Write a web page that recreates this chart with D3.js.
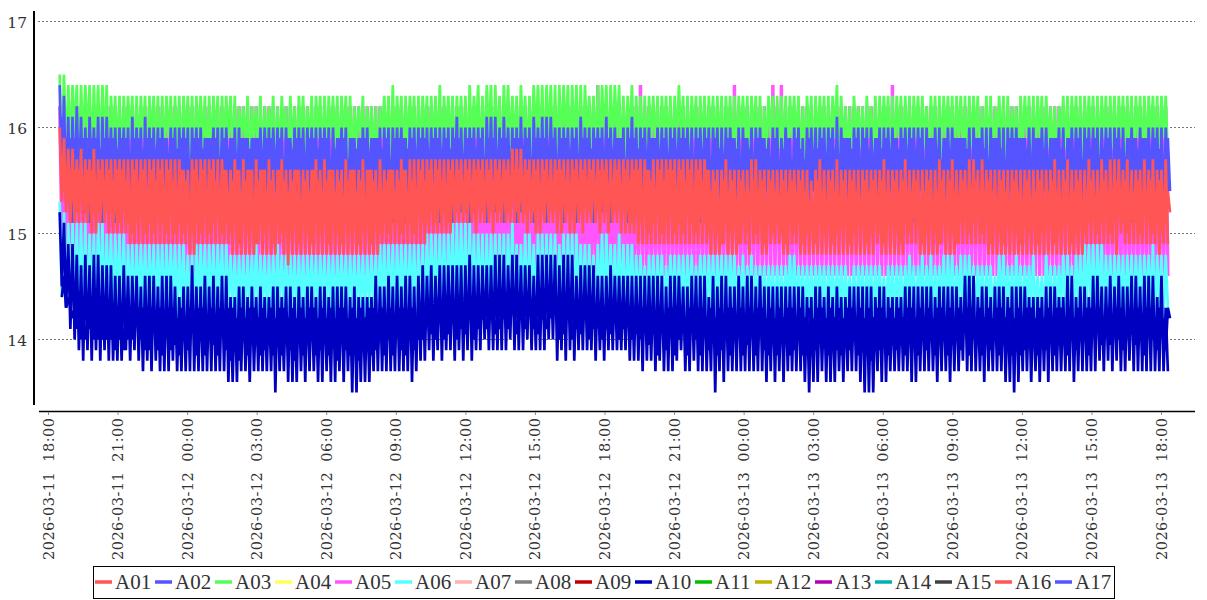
<!DOCTYPE html>
<html>
<head>
<meta charset="utf-8">
<script src="https://cdn.jsdelivr.net/npm/d3@7"></script>
<style>
  html, body { margin: 0; background: #fff; }
  text { fill: #333; }
</style>
</head>
<body>
<svg id="chart" width="1207" height="600"></svg>
<script>
const names = ['A01','A02','A03','A04','A05','A06','A07','A08','A09','A10','A11','A12','A13','A14','A15','A16','A17'];
const colors = ['#ff5555','#5555ff','#55ff55','#ffff55','#ff55ff','#55ffff','#ffb0b0','#808080','#c00000','#0000c0','#00c000','#c0b000','#b000b0','#00b0b0','#404040','#ff5555','#5555ff'];
const yTicks = [14, 15, 16, 17];
const xTicks = ['2026-03-11 18:00','2026-03-11 21:00','2026-03-12 00:00','2026-03-12 03:00','2026-03-12 06:00','2026-03-12 09:00','2026-03-12 12:00','2026-03-12 15:00','2026-03-12 18:00','2026-03-12 21:00','2026-03-13 00:00','2026-03-13 03:00','2026-03-13 06:00','2026-03-13 09:00','2026-03-13 12:00','2026-03-13 15:00','2026-03-13 18:00'];

// each series swings between a high and a low reading per sample
const a03Hi = [16.5,16.5,16.4,16.4,16.4,16.4,16.4,16.4,16.4,16.4,16.4,16.4,16.3,16.3,16.3,16.3,16.3,16.3,16.3,16.3,
16.3,16.3,16.3,16.3,16.3,16.3,16.3,16.3,16.3,16.3,16.3,16.3,16.3,16.3,16.3,16.3,16.3,16.3,16.3,16.3,
16.3,16.3,16.2,16.2,16.3,16.2,16.2,16.3,16.2,16.2,16.3,16.2,16.3,16.2,16.3,16.2,16.3,16.3,16.2,16.3,
16.3,16.3,16.3,16.3,16.3,16.3,16.3,16.3,16.3,16.2,16.2,16.3,16.2,16.2,16.2,16.2,16.3,16.3,16.4,16.3,
16.3,16.3,16.3,16.3,16.3,16.3,16.3,16.3,16.3,16.4,16.3,16.3,16.3,16.3,16.3,16.3,16.4,16.3,16.4,16.3,
16.4,16.4,16.4,16.3,16.4,16.4,16.3,16.3,16.4,16.3,16.3,16.4,16.4,16.4,16.4,16.4,16.4,16.4,16.4,16.4,
16.4,16.4,16.4,16.4,16.3,16.3,16.4,16.4,16.4,16.4,16.4,16.4,16.3,16.3,16.4,16.3,16.3,16.3,16.3,16.3,
16.3,16.3,16.3,16.3,16.3,16.4,16.3,16.3,16.3,16.3,16.3,16.3,16.3,16.3,16.3,16.3,16.3,16.3,16.3,16.3,
16.3,16.3,16.3,16.3,16.3,16.2,16.3,16.3,16.3,16.3,16.3,16.3,16.3,16.3,16.2,16.3,16.3,16.3,16.3,16.3,
16.3,16.3,16.4,16.3,16.2,16.2,16.3,16.2,16.2,16.3,16.2,16.3,16.3,16.3,16.3,16.3,16.3,16.3,16.3,16.3,
16.3,16.3,16.3,16.2,16.3,16.3,16.3,16.3,16.3,16.3,16.3,16.3,16.3,16.3,16.3,16.3,16.2,16.3,16.3,16.2,
16.3,16.3,16.3,16.2,16.2,16.3,16.3,16.3,16.3,16.3,16.3,16.3,16.2,16.2,16.2,16.3,16.3,16.3,16.3,16.3,
16.3,16.3,16.3,16.3,16.3,16.3,16.3,16.3,16.3,16.3,16.3,16.3,16.3,16.3,16.3,16.3,16.3,16.3,16.3,16.3];
const a03Lo = [15.6,15.7,15.8,15.9,15.6,15.8,15.9,15.6,15.8,15.7,15.8,15.6,15.9,15.7,15.6,15.8,15.9,15.6,15.7,15.9,
15.6,15.9,15.8,15.6,15.7,15.9,15.6,15.8,15.6,15.9,15.7,15.6,15.9,15.8,15.6,15.7,15.9,15.6,15.8,15.9,
15.7,15.6,15.9,15.8,15.6,15.9,15.7,15.6,15.8,15.9,15.6,15.7,15.9,15.6,15.8,15.6,15.9,15.7,15.8,15.6,
15.9,15.6,15.7,15.9,15.8,15.6,15.9,15.7,15.6,15.8,15.9,15.6,15.8,15.7,15.6,15.9,15.8,15.6,15.7,15.9,
15.6,15.8,15.9,15.6,15.7,15.9,15.6,15.8,15.7,15.6,15.9,15.8,15.6,15.9,15.7,15.6,15.8,15.9,15.6,15.7,
15.9,15.6,15.8,15.6,15.9,15.7,15.8,15.6,15.9,15.6,15.7,15.9,15.8,15.6,15.9,15.7,15.6,15.8,15.9,15.6,
15.8,15.7,15.6,15.9,15.8,15.6,15.7,15.9,15.6,15.8,15.9,15.6,15.7,15.9,15.6,15.8,15.7,15.6,15.9,15.8,
15.6,15.9,15.7,15.6,15.8,15.9,15.6,15.7,15.9,15.6,15.8,15.6,15.9,15.7,15.8,15.6,15.9,15.6,15.7,15.9,
15.8,15.6,15.9,15.7,15.6,15.8,15.9,15.6,15.8,15.7,15.6,15.9,15.8,15.6,15.7,15.9,15.6,15.8,15.9,15.6,
15.7,15.9,15.6,15.8,15.7,15.6,15.9,15.8,15.6,15.9,15.7,15.6,15.8,15.9,15.6,15.7,15.9,15.6,15.8,15.6,
15.9,15.7,15.8,15.6,15.9,15.6,15.7,15.9,15.8,15.6,15.9,15.7,15.6,15.8,15.9,15.6,15.8,15.7,15.6,15.9,
15.8,15.6,15.7,15.9,15.6,15.8,15.9,15.6,15.7,15.9,15.6,15.8,15.7,15.6,15.9,15.8,15.6,15.9,15.7,15.6,
15.8,15.9,15.6,15.7,15.9,15.6,15.8,15.6,15.9,15.7,15.8,15.6,15.9,15.6,15.7,15.9,15.8,15.6,15.9,15.7];

const a02Hi = [16.4,16.3,16.1,16.1,16.2,16.1,16,16.1,16,16.1,16.1,16.1,16,16,16,16,16,16.1,16,16,
16.1,16,16,16,16,15.9,16,16,16,16,16,16,16,16,15.9,15.9,16,16,16,16,
15.9,16,16,15.9,15.9,15.9,15.9,16,16,16,16,16,16,16,15.9,16,16,16,16,16,
16,16,16,16,16,15.9,16,16,15.9,15.9,15.9,16,16,15.9,15.9,16,16,16,16,16,
16,15.9,16,16,16,16,16,16,16,16,16,16,16,16.1,16,16,16,16,16,16,
16.1,16.1,16.1,16,16.1,16,16,16,16.1,16,16,16.1,16,16.1,16.1,16.1,16,16,16,16,
16,16,16.1,16,16,16,16,16,16.1,16,16,15.9,16,16,16.1,16,16,16,16,15.9,
16,16,16,16,16,16,16,16,16,16,16,16,16,16,16,16,16,16,15.9,16,
16,15.9,16,16,16,15.9,15.9,16,16,15.9,16,15.9,16,16,15.9,16,16,16,16,16,
16,16,16.1,16,15.9,15.9,16,16,16,16,16,15.9,16,16,16,16,15.9,16,16,16,
16,16,16,16,15.9,16,16,15.9,16,16,15.9,15.9,15.9,16,16,15.9,16,16,16,15.9,
16,16,16,16,16,15.9,15.9,16,16,15.9,16,16,15.9,15.9,16,16,15.9,16,16,16,
16,16,16,16,16,16,16,16,16,16,15.9,16,15.9,16,15.9,16,16,16,16,16];
const a02Lo = [15.4,15.3,15.1,15.3,15.4,15.2,15.1,15.4,15.3,15.1,15.2,15.4,15.1,15.3,15.4,15.1,15.2,15.3,15.4,15.1,
15.3,15.2,15.4,15.1,15.3,15.4,15.2,15.1,15.4,15.3,15.1,15.4,15.2,15.3,15.1,15.4,15.3,15.2,15.1,15.4,
15.2,15.3,15.1,15.4,15.3,15.1,15.2,15.4,15.3,15.1,15.4,15.2,15.1,15.3,15.4,15.2,15.1,15.3,15.4,15.1,
15.2,15.4,15.3,15.1,15.4,15.2,15.3,15.1,15.4,15.3,15.2,15.1,15.4,15.3,15.1,15.2,15.4,15.1,15.3,15.4,
15.1,15.3,15.2,15.4,15.1,15.3,15.4,15.2,15.1,15.4,15.3,15.1,15.4,15.2,15.3,15.1,15.4,15.3,15.2,15.1,
15.4,15.2,15.3,15.1,15.4,15.3,15.1,15.2,15.4,15.3,15.1,15.4,15.2,15.1,15.3,15.4,15.2,15.1,15.3,15.4,
15.1,15.2,15.4,15.3,15.1,15.4,15.2,15.3,15.1,15.4,15.3,15.2,15.1,15.4,15.3,15.1,15.2,15.4,15.1,15.3,
15.4,15.1,15.3,15.2,15.4,15.1,15.3,15.4,15.2,15.1,15.4,15.3,15.1,15.4,15.2,15.3,15.1,15.4,15.3,15.2,
15.1,15.4,15.2,15.3,15.1,15.4,15.3,15.1,15.2,15.4,15.3,15.1,15.4,15.2,15.1,15.3,15.4,15.2,15.1,15.3,
15.4,15.1,15.2,15.4,15.3,15.1,15.4,15.2,15.3,15.1,15.4,15.3,15.2,15.1,15.4,15.3,15.1,15.2,15.4,15.1,
15.3,15.4,15.1,15.3,15.2,15.4,15.1,15.3,15.4,15.2,15.1,15.4,15.3,15.1,15.4,15.2,15.3,15.1,15.4,15.3,
15.2,15.1,15.4,15.2,15.3,15.1,15.4,15.3,15.1,15.2,15.4,15.3,15.1,15.4,15.2,15.1,15.3,15.4,15.2,15.1,
15.3,15.4,15.1,15.2,15.4,15.3,15.1,15.4,15.2,15.3,15.1,15.4,15.3,15.2,15.1,15.4,15.3,15.1,15.2,15.4];
const a17Hi = [16.1,15.9,15.9,15.9,15.9,15.9,15.9,15.9,15.9,15.8,15.9,15.9,15.9,15.8,15.9,15.9,15.7,15.9,15.9,15.8,
15.9,15.9,15.7,15.9,15.9,15.7,15.9,15.8,15.9,15.9,15.7,15.9,15.9,15.8,15.9,15.9,15.9,15.7,15.9,15.8,
15.9,15.7,15.9,15.9,15.8,15.9,15.9,15.7,15.9,15.9,15.8,15.9,15.7,15.9,15.8,15.9,15.9,15.7,15.9,15.9,
15.8,15.9,15.9,15.7,15.8,15.9,15.9,15.7,15.9,15.8,15.9,15.9,15.7,15.9,15.9,15.8,15.9,15.7,15.9,15.9,
15.9,15.8,15.9,15.7,15.9,15.9,15.8,15.9,15.9,15.7,15.9,15.8,15.9,15.9,15.7,15.9,15.9,15.8,15.9,15.7,
15.9,15.9,15.8,15.9,15.9,15.7,15.9,15.9,15.8,15.9,15.7,15.9,15.9,15.9,15.8,15.9,15.7,15.9,15.9,15.8,
15.9,15.7,15.9,15.9,15.8,15.9,15.9,15.7,15.9,15.8,15.9,15.9,15.7,15.9,15.9,15.8,15.9,15.7,15.9,15.9,
15.8,15.9,15.7,15.9,15.8,15.9,15.9,15.7,15.7,15.9,15.8,15.9,15.7,15.9,15.8,15.7,15.9,15.9,15.8,15.7,
15.9,15.8,15.7,15.9,15.9,15.8,15.7,15.9,15.7,15.8,15.9,15.7,15.9,15.8,15.7,15.9,15.7,15.8,15.9,15.7,
15.9,15.8,15.7,15.9,15.9,15.8,15.9,15.7,15.9,15.8,15.7,15.9,15.8,15.9,15.7,15.9,15.8,15.9,15.7,15.9,
15.8,15.9,15.7,15.9,15.9,15.8,15.7,15.9,15.8,15.9,15.9,15.9,15.8,15.7,15.9,15.9,15.8,15.7,15.9,15.9,
15.8,15.7,15.9,15.9,15.9,15.9,15.8,15.7,15.9,15.9,15.8,15.7,15.9,15.9,15.8,15.7,15.9,15.8,15.9,15.7,
15.9,15.8,15.9,15.7,15.8,15.9,15.7,15.9,15.8,15.7,15.9,15.9,15.8,15.9,15.9,15.7,15.9,15.8,15.7,15.9];

const a01Hi = [16,15.9,15.8,15.8,15.7,15.8,15.7,15.7,15.8,15.7,15.7,15.7,15.7,15.7,15.7,15.7,15.7,15.7,15.7,15.7,
15.7,15.7,15.7,15.7,15.7,15.7,15.7,15.7,15.7,15.6,15.6,15.7,15.7,15.7,15.7,15.7,15.7,15.7,15.7,15.6,
15.6,15.7,15.6,15.7,15.6,15.6,15.7,15.6,15.6,15.7,15.6,15.6,15.7,15.6,15.6,15.6,15.6,15.6,15.6,15.6,
15.7,15.6,15.7,15.6,15.6,15.6,15.6,15.7,15.6,15.6,15.6,15.7,15.6,15.6,15.6,15.7,15.6,15.6,15.6,15.6,
15.7,15.6,15.7,15.7,15.7,15.7,15.7,15.7,15.7,15.7,15.7,15.7,15.7,15.7,15.7,15.7,15.7,15.7,15.7,15.7,
15.7,15.7,15.7,15.7,15.7,15.7,15.8,15.8,15.8,15.7,15.7,15.7,15.7,15.7,15.7,15.7,15.7,15.7,15.7,15.7,
15.7,15.7,15.7,15.7,15.7,15.7,15.7,15.7,15.7,15.7,15.7,15.7,15.7,15.7,15.7,15.7,15.7,15.7,15.6,15.7,
15.7,15.7,15.7,15.7,15.7,15.7,15.7,15.7,15.7,15.7,15.7,15.7,15.6,15.6,15.6,15.6,15.7,15.6,15.6,15.6,
15.6,15.6,15.7,15.7,15.6,15.6,15.6,15.6,15.6,15.6,15.6,15.6,15.6,15.6,15.6,15.6,15.5,15.6,15.7,15.6,
15.6,15.6,15.7,15.6,15.6,15.6,15.6,15.6,15.6,15.6,15.6,15.6,15.6,15.7,15.6,15.6,15.6,15.6,15.7,15.6,
15.6,15.6,15.6,15.6,15.6,15.6,15.7,15.6,15.6,15.7,15.6,15.6,15.6,15.7,15.7,15.6,15.7,15.6,15.6,15.6,
15.6,15.6,15.6,15.6,15.6,15.6,15.6,15.6,15.6,15.6,15.6,15.6,15.6,15.7,15.6,15.6,15.7,15.6,15.6,15.6,
15.6,15.7,15.6,15.6,15.7,15.6,15.7,15.7,15.7,15.6,15.7,15.6,15.6,15.6,15.7,15.6,15.7,15.6,15.6,15.7];
const a01Lo = [15.3,15.2,15.1,15.1,15.1,15.1,15.1,15,15,15.1,15.1,15,15,15,15,15,14.9,14.9,14.9,14.9,
14.9,14.9,14.9,14.9,14.9,14.9,14.9,14.9,14.9,14.9,14.8,14.8,14.9,14.9,14.9,14.9,14.9,14.9,14.9,14.9,
14.8,14.8,14.8,14.8,14.8,14.8,14.9,14.8,14.8,14.8,14.8,14.9,14.8,14.7,14.8,14.8,14.8,14.8,14.8,14.8,
14.8,14.8,14.8,14.8,14.8,14.8,14.8,14.8,14.8,14.8,14.8,14.8,14.8,14.8,14.8,14.9,14.9,14.9,14.9,14.9,
14.9,14.9,14.9,14.9,14.9,14.9,15,15,15,15,15,15,15.1,15.1,15.1,15.1,15.1,15,15.1,15.1,
15.1,15,15.1,15.1,15.1,15.1,15.1,15.1,15.1,15,15.1,15,15,15.1,15.1,15.1,15,15,15.1,15,
15,15.1,15,15.1,15.1,15.1,15,15.1,15,15.1,15.1,15,15,15,15,14.9,14.9,14.9,14.9,14.9,
14.9,14.9,14.9,14.9,14.9,14.9,14.9,14.9,14.9,14.9,14.9,14.9,14.8,14.8,14.8,14.9,14.8,14.8,14.8,14.9,
14.9,14.8,14.9,14.9,14.8,14.8,14.9,14.9,14.9,14.8,14.8,14.9,14.9,14.8,14.8,14.8,14.8,14.8,14.8,14.8,
14.8,14.8,14.8,14.8,14.8,14.8,14.8,14.8,14.8,14.8,14.8,14.9,14.8,14.8,14.8,14.8,14.8,14.8,14.9,14.9,
14.9,14.8,14.8,14.8,14.8,14.8,14.9,14.8,14.8,14.8,14.9,14.9,14.9,14.9,14.9,14.9,14.9,14.8,14.8,14.8,
14.8,14.8,14.8,14.8,14.8,14.8,14.8,14.8,14.8,14.8,14.8,14.8,14.8,14.8,14.8,14.8,14.8,14.8,14.8,14.8,
14.9,14.9,14.9,14.9,14.9,14.9,14.9,14.8,15,14.9,14.9,14.9,14.9,14.9,14.9,14.9,14.9,14.8,14.9,14.9];
const a16Hi = [15.6,15.6,15.6,15.6,15.6,15.5,15.6,15.6,15.5,15.6,15.4,15.6,15.5,15.6,15.6,15.5,15.3,15.6,15.5,15.6,
15.4,15.6,15.5,15.6,15.3,15.6,15.5,15.4,15.6,15.5,15.3,15.6,15.5,15.6,15.4,15.6,15.5,15.4,15.6,15.3,
15.5,15.6,15.4,15.5,15.6,15.3,15.5,15.6,15.4,15.5,15.3,15.6,15.5,15.4,15.5,15.6,15.3,15.5,15.4,15.6,
15.5,15.3,15.5,15.6,15.4,15.5,15.3,15.5,15.6,15.4,15.5,15.3,15.6,15.5,15.4,15.3,15.5,15.6,15.4,15.5,
15.6,15.3,15.5,15.4,15.6,15.5,15.6,15.4,15.6,15.5,15.3,15.6,15.5,15.6,15.4,15.6,15.5,15.6,15.6,15.4,
15.6,15.5,15.6,15.3,15.6,15.5,15.6,15.6,15.4,15.6,15.5,15.6,15.3,15.6,15.5,15.4,15.6,15.6,15.5,15.3,
15.6,15.5,15.6,15.4,15.6,15.5,15.6,15.6,15.3,15.5,15.6,15.4,15.6,15.5,15.6,15.6,15.4,15.6,15.5,15.3,
15.6,15.5,15.6,15.6,15.4,15.6,15.5,15.6,15.3,15.6,15.5,15.6,15.4,15.5,15.3,15.5,15.4,15.5,15.3,15.5,
15.4,15.3,15.5,15.4,15.5,15.3,15.5,15.4,15.3,15.5,15.4,15.5,15.3,15.5,15.4,15.3,15.3,15.5,15.4,15.3,
15.5,15.4,15.3,15.5,15.3,15.5,15.4,15.3,15.5,15.4,15.5,15.3,15.5,15.4,15.3,15.5,15.4,15.5,15.3,15.4,
15.5,15.3,15.4,15.5,15.3,15.4,15.5,15.3,15.5,15.4,15.3,15.5,15.4,15.3,15.5,15.3,15.4,15.5,15.4,15.3,
15.5,15.4,15.3,15.5,15.4,15.3,15.5,15.3,15.4,15.5,15.3,15.4,15.5,15.4,15.3,15.5,15.3,15.4,15.5,15.3,
15.4,15.5,15.3,15.4,15.5,15.3,15.4,15.5,15.3,15.5,15.4,15.3,15.5,15.4,15.3,15.5,15.4,15.5,15.3,15.4];
const a16Lo = [15.4,15.3,15.3,15.2,15.3,15.2,15.3,15.2,15.2,15.3,15.2,15.2,15.2,15.1,15.2,15.1,15,15.1,15.2,15,
15.1,15,15.2,15.1,15,15.2,15,15.1,15,15.2,15,15.1,15,15.2,15,15.1,15.2,15,15.1,15,
15.1,14.9,15.1,15,15.2,14.9,15.1,15,15.1,14.9,15.2,15,15.1,15,15.1,14.9,15.2,15,14.9,15.1,
15,15.2,14.9,15.1,15,14.9,15.2,15,15.1,14.9,15,15.2,14.9,15.1,15,15.1,15,15.2,15.1,15,
15.2,15.1,15,15.2,15.1,15.1,15.2,15.1,15.3,15.2,15.1,15.3,15.2,15.3,15.2,15.3,15.2,15.3,15.2,15.3,
15.2,15.3,15.2,15.3,15.2,15.3,15.2,15.3,15.2,15.3,15.2,15.3,15.2,15.3,15.2,15.3,15.2,15.3,15.2,15.3,
15.3,15.2,15.3,15.2,15.3,15.2,15.3,15.2,15.3,15.2,15.3,15.2,15.2,15.1,15.2,15.1,15.2,15,15.1,15.2,
15,15.1,15.2,15,15.1,15,15.2,15.1,15,15.2,15.1,15,15.2,15,14.9,15.1,15,15.2,14.9,15.1,
15,15.2,15,15.1,14.9,15.2,15,15.1,15,14.9,15.2,15,15.1,14.9,15,15.2,14.9,15.1,15,15.2,
14.9,15,15.1,15.2,14.9,15,15.2,15.1,14.9,15,15.2,15,14.9,15.1,15.2,15,14.9,15.1,15,15.2,
15.1,14.9,15,15.2,15,14.9,15.1,15.2,15,14.9,15.1,15.2,15,15.1,15.2,15,15.1,14.9,15.2,15,
14.9,15.1,15.2,15,14.9,15.1,15,15.2,14.9,15,15.1,15.2,14.9,15,15.2,15.1,14.9,15,15.2,15,
15.1,15.2,15,15.1,15.2,15,15.1,15.2,15.1,15,15.2,15.1,15,15.2,15.1,15,15.2,15,15.1,15.2];

const a05Hi = [16.2,16.2,16.2,16.2,16.2,16.2,16.2,16.2,16.2,16.2,16.2,16.2,16.2,16.2,16.2,16.2,16.2,16.2,16.2,16.2,
16.2,16.2,16.2,16.2,16.2,16.2,16.2,16.2,16.2,16.2,16.2,16.2,16.2,16.2,16.2,16.2,16.2,16.2,16.2,16.2,
16.2,16.2,16.2,16.2,16.2,16.2,16.2,16.2,16.2,16.2,16.2,16.2,16.2,16.2,16.2,16.2,16.2,16.2,16.2,16.2,
16.2,16.2,16.2,16.2,16.2,16.2,16.2,16.2,16.2,16.2,16.2,16.2,16.2,16.2,16.2,16.2,16.2,16.2,16.2,16.2,
16.2,16.2,16.2,16.2,16.2,16.2,16.2,16.2,16.2,16.2,16.2,16.2,16.2,16.2,16.2,16.2,16.2,16.2,16.2,16.2,
16.2,16.2,16.2,16.2,16.2,16.2,16.2,16.2,16.2,16.2,16.2,16.2,16.2,16.2,16.2,16.2,16.2,16.2,16.2,16.2,
16.2,16.2,16.2,16.2,16.2,16.2,16.4,16.2,16.2,16.2,16.2,16.2,16.2,16.2,16.2,16.2,16.4,16.2,16.2,16.2,
16.2,16.2,16.2,16.2,16.2,16.2,16.2,16.2,16.2,16.2,16.2,16.2,16.2,16.2,16.2,16.2,16.2,16.2,16.4,16.2,
16.2,16.2,16.2,16.2,16.2,16.2,16.2,16.4,16.2,16.4,16.2,16.2,16.2,16.2,16.2,16.2,16.2,16.2,16.2,16.2,
16.2,16.2,16.2,16.2,16.2,16.2,16.2,16.2,16.2,16.2,16.2,16.2,16.2,16.2,16.2,16.4,16.2,16.2,16.2,16.2,
16.2,16.2,16.2,16.2,16.2,16.2,16.2,16.2,16.2,16.2,16.2,16.2,16.2,16.2,16.2,16.2,16.2,16.2,16.2,16.2,
16.2,16.2,16.2,16.2,16.2,16.2,16.2,16.2,16.2,16.2,16.2,16.2,16.2,16.2,16.2,16.2,16.2,16.2,16.2,16.2,
16.2,16.2,16.2,16.2,16.2,16.2,16.2,16.2,16.2,16.2,16.2,16.2,16.2,16.2,16.2,16.2,16.2,16.2,16.2,16.2];
const a05Lo = [15,14.8,14.6,14.6,14.6,14.6,14.6,14.6,14.6,14.6,14.6,14.6,14.6,14.6,14.6,14.6,14.6,14.6,14.6,14.6,
14.6,14.6,14.6,14.6,14.6,14.6,14.6,14.6,14.6,14.6,14.6,14.6,14.6,14.6,14.6,14.6,14.6,14.6,14.6,14.6,
14.6,14.6,14.6,14.6,14.6,14.6,14.6,14.6,14.6,14.6,14.6,14.6,14.6,14.6,14.6,14.6,14.6,14.6,14.6,14.6,
14.6,14.6,14.6,14.6,14.6,14.6,14.6,14.6,14.6,14.6,14.6,14.6,14.6,14.6,14.6,14.6,14.6,14.6,14.6,14.6,
14.6,14.6,14.6,14.6,14.6,14.6,14.6,14.6,14.6,14.6,14.6,14.6,14.6,14.6,14.6,14.6,14.6,14.6,14.6,14.6,
14.6,14.6,14.6,14.6,14.6,14.6,14.6,14.6,14.6,14.6,14.6,14.6,14.6,14.6,14.6,14.6,14.6,14.6,14.6,14.6,
14.6,14.6,14.6,14.6,14.6,14.6,14.6,14.6,14.6,14.6,14.6,14.6,14.6,14.6,14.6,14.6,14.6,14.6,14.6,14.6,
14.6,14.6,14.6,14.6,14.6,14.6,14.6,14.6,14.6,14.6,14.6,14.6,14.6,14.6,14.6,14.6,14.6,14.6,14.6,14.6,
14.6,14.6,14.6,14.6,14.6,14.6,14.6,14.6,14.6,14.6,14.6,14.6,14.6,14.6,14.6,14.6,14.6,14.6,14.6,14.6,
14.6,14.6,14.6,14.6,14.6,14.6,14.6,14.6,14.6,14.6,14.6,14.6,14.6,14.6,14.6,14.6,14.6,14.6,14.6,14.6,
14.6,14.6,14.6,14.6,14.6,14.6,14.6,14.6,14.6,14.6,14.6,14.6,14.6,14.6,14.6,14.6,14.6,14.6,14.6,14.6,
14.6,14.6,14.6,14.6,14.6,14.6,14.6,14.6,14.6,14.6,14.6,14.6,14.6,14.6,14.6,14.6,14.6,14.6,14.6,14.6,
14.6,14.6,14.6,14.6,14.6,14.6,14.6,14.6,14.6,14.6,14.6,14.6,14.6,14.6,14.6,14.6,14.6,14.6,14.6,14.6];

const a06Hi = [15.3,15.2,15.1,15.1,15.1,15.1,15.1,15,15,15.1,15.1,15,15,15,15,15,14.9,14.9,14.9,14.9,
14.9,14.9,14.9,14.9,14.9,14.9,14.9,14.9,14.9,14.9,14.8,14.8,14.9,14.9,14.9,14.9,14.9,14.9,14.9,14.9,
14.8,14.8,14.8,14.8,14.8,14.8,14.9,14.8,14.8,14.8,14.8,14.9,14.8,14.8,14.8,14.8,14.8,14.8,14.8,14.8,
14.8,14.8,14.8,14.8,14.8,14.8,14.8,14.8,14.8,14.8,14.8,14.8,14.8,14.8,14.8,14.9,14.9,14.9,14.9,14.9,
14.9,14.9,14.9,14.9,14.9,14.9,15,15,15,15,15,15,15.1,15.1,15.1,15.1,15.1,15,15,15,
15,15,15,15,15,15,15.1,14.9,14.9,15,15,14.9,15,15,15,15,15,14.9,15,15,
15,15,14.9,14.9,14.9,14.8,14.9,15,15,14.9,14.9,15,14.9,14.9,14.9,14.8,14.8,14.7,14.8,14.8,
14.8,14.8,14.7,14.8,14.8,14.8,14.8,14.8,14.8,14.7,14.8,14.8,14.8,14.8,14.8,14.8,14.8,14.8,14.8,14.7,
14.8,14.7,14.8,14.7,14.7,14.7,14.7,14.7,14.7,14.7,14.7,14.8,14.8,14.7,14.7,14.7,14.7,14.7,14.7,14.7,
14.7,14.7,14.7,14.7,14.7,14.6,14.7,14.7,14.7,14.7,14.7,14.7,14.7,14.6,14.7,14.7,14.7,14.7,14.7,14.8,
14.7,14.7,14.8,14.7,14.8,14.7,14.7,14.8,14.8,14.8,14.7,14.8,14.8,14.8,14.7,14.7,14.7,14.7,14.7,14.6,
14.8,14.8,14.7,14.7,14.8,14.7,14.7,14.7,14.8,14.6,14.6,14.8,14.7,14.7,14.7,14.8,14.8,14.7,14.8,14.8,
14.9,14.9,14.9,14.9,14.9,14.8,14.8,14.8,14.8,14.8,14.8,14.8,14.8,14.8,14.8,14.8,14.9,14.8,14.8,14.8];
const a06Lo = [14.4,14.3,14.3,14.3,14.3,14.2,14.2,14.3,14.2,14.3,14.2,14.3,14.2,14.3,14.2,14.2,14.3,14.2,14.3,14.3,
14.2,14.3,14.2,14.3,14.2,14.3,14.3,14.2,14.3,14.2,14.3,14.2,14.3,14.3,14.2,14.3,14.2,14.3,14.2,14.3,
14.3,14.2,14.3,14.2,14.3,14.3,14.2,14.3,14.2,14.3,14.2,14.3,14.3,14.2,14.3,14.2,14.3,14.2,14.3,14.3,
14.2,14.3,14.2,14.3,14.2,14.3,14.3,14.2,14.3,14.2,14.3,14.2,14.3,14.3,14.2,14.3,14.2,14.3,14.2,14.3,
14.3,14.2,14.3,14.2,14.3,14.2,14.3,14.3,14.2,14.3,14.2,14.3,14.2,14.3,14.3,14.2,14.3,14.2,14.3,14.2,
14.3,14.3,14.2,14.3,14.2,14.3,14.2,14.3,14.3,14.2,14.3,14.2,14.3,14.2,14.3,14.3,14.2,14.3,14.2,14.3,
14.2,14.3,14.3,14.2,14.3,14.2,14.3,14.2,14.3,14.3,14.2,14.3,14.2,14.3,14.2,14.3,14.3,14.2,14.3,14.2,
14.3,14.2,14.3,14.3,14.2,14.3,14.2,14.3,14.2,14.3,14.3,14.2,14.3,14.2,14.3,14.2,14.3,14.3,14.2,14.3,
14.2,14.3,14.2,14.3,14.3,14.2,14.3,14.2,14.3,14.2,14.3,14.3,14.2,14.3,14.2,14.3,14.2,14.3,14.3,14.2,
14.3,14.2,14.3,14.2,14.3,14.3,14.2,14.3,14.2,14.3,14.2,14.3,14.3,14.2,14.3,14.2,14.3,14.2,14.3,14.3,
14.2,14.3,14.2,14.3,14.2,14.3,14.3,14.2,14.3,14.2,14.3,14.2,14.3,14.3,14.2,14.3,14.2,14.3,14.2,14.3,
14.3,14.2,14.3,14.2,14.3,14.2,14.3,14.3,14.2,14.3,14.2,14.3,14.2,14.3,14.3,14.2,14.3,14.2,14.3,14.2,
14.3,14.3,14.2,14.3,14.2,14.3,14.2,14.3,14.3,14.2,14.3,14.2,14.3,14.2,14.3,14.3,14.2,14.3,14.2,14.3];

const a10Hi = [15.2,15.1,14.9,14.9,14.8,14.7,14.8,14.7,14.8,14.8,14.7,14.7,14.7,14.6,14.6,14.7,14.6,14.6,14.6,14.5,
14.6,14.6,14.6,14.5,14.6,14.6,14.6,14.5,14.4,14.5,14.5,14.7,14.5,14.5,14.6,14.5,14.6,14.5,14.6,14.6,
14.4,14.4,14.5,14.5,14.4,14.5,14.4,14.5,14.4,14.4,14.5,14.5,14.4,14.5,14.5,14.4,14.5,14.4,14.5,14.5,
14.4,14.5,14.5,14.4,14.5,14.5,14.5,14.5,14.4,14.5,14.4,14.4,14.4,14.4,14.6,14.5,14.5,14.6,14.5,14.6,
14.5,14.6,14.6,14.5,14.6,14.7,14.6,14.7,14.6,14.7,14.7,14.7,14.7,14.7,14.7,14.7,14.8,14.7,14.7,14.7,
14.7,14.7,14.8,14.8,14.8,14.7,14.8,14.8,14.7,14.7,14.7,14.6,14.8,14.8,14.8,14.8,14.8,14.7,14.8,14.8,
14.8,14.6,14.7,14.7,14.7,14.7,14.6,14.6,14.6,14.7,14.6,14.6,14.6,14.6,14.6,14.6,14.6,14.6,14.6,14.6,
14.6,14.6,14.5,14.6,14.6,14.6,14.5,14.5,14.6,14.6,14.6,14.6,14.4,14.6,14.5,14.6,14.6,14.5,14.5,14.6,
14.5,14.6,14.6,14.5,14.6,14.5,14.5,14.5,14.5,14.5,14.5,14.5,14.5,14.5,14.5,14.4,14.4,14.5,14.5,14.4,
14.5,14.4,14.5,14.4,14.4,14.5,14.5,14.5,14.5,14.5,14.5,14.4,14.5,14.5,14.4,14.4,14.4,14.4,14.5,14.5,
14.5,14.5,14.5,14.5,14.5,14.4,14.5,14.5,14.5,14.5,14.5,14.4,14.6,14.6,14.6,14.4,14.5,14.5,14.4,14.5,
14.5,14.5,14.4,14.5,14.5,14.5,14.5,14.4,14.4,14.4,14.4,14.5,14.5,14.5,14.4,14.4,14.6,14.6,14.4,14.5,
14.5,14.4,14.6,14.6,14.5,14.5,14.6,14.5,14.6,14.5,14.5,14.6,14.6,14.5,14.6,14.6,14.6,14.4,14.6,14.3];
const a10Lo = [14.5,14.3,14.1,14,13.9,13.8,13.9,13.8,13.9,13.8,13.9,13.8,13.8,13.8,13.8,13.9,13.8,13.9,13.8,13.7,
13.8,13.7,13.8,13.7,13.7,13.7,13.8,13.7,13.7,13.7,13.7,13.7,13.7,13.7,13.7,13.7,13.7,13.7,13.7,13.6,
13.6,13.6,13.7,13.7,13.6,13.7,13.7,13.7,13.7,13.7,13.5,13.7,13.7,13.6,13.6,13.6,13.7,13.6,13.7,13.7,
13.6,13.6,13.7,13.6,13.6,13.7,13.6,13.7,13.5,13.5,13.6,13.6,13.6,13.7,13.7,13.7,13.7,13.7,13.7,13.7,
13.7,13.7,13.6,13.7,13.8,13.8,13.9,13.8,13.9,13.8,13.9,13.9,13.8,13.9,13.8,13.9,13.8,13.9,13.9,14,
13.9,13.9,13.9,13.9,13.9,14,13.9,13.9,13.9,14,13.9,13.9,13.9,13.9,14,14,13.8,13.9,13.8,13.9,
13.8,13.9,13.9,13.9,13.9,13.8,13.9,13.8,13.9,13.9,13.9,13.9,13.9,13.8,13.8,13.8,13.7,13.8,13.8,13.7,
13.8,13.7,13.7,13.7,13.8,13.9,13.7,13.7,13.8,13.7,13.7,13.7,13.7,13.5,13.7,13.6,13.7,13.7,13.7,13.7,
13.7,13.7,13.7,13.7,13.7,13.6,13.7,13.6,13.7,13.6,13.7,13.7,13.7,13.7,13.6,13.5,13.6,13.6,13.7,13.6,
13.6,13.6,13.7,13.6,13.7,13.7,13.7,13.6,13.5,13.5,13.5,13.7,13.6,13.6,13.7,13.7,13.7,13.7,13.7,13.6,
13.6,13.7,13.7,13.7,13.7,13.6,13.7,13.7,13.6,13.7,13.7,13.8,13.7,13.7,13.7,13.7,13.6,13.7,13.7,13.7,
13.7,13.6,13.6,13.5,13.6,13.7,13.7,13.6,13.7,13.6,13.7,13.6,13.7,13.7,13.7,13.7,13.7,13.6,13.7,13.7,
13.7,13.7,13.7,13.8,13.7,13.8,13.7,13.8,13.7,13.7,13.8,13.7,13.7,13.7,13.7,13.7,13.7,13.7,13.7,13.7];
// how far the dark band's lower edge is filled in between samples
const a10Inner = [14.6,14.4,14.2,14.1,14,14,14.1,14,14,14,14,14,13.9,14,13.9,14,14,14.2,14,13.9,
13.9,14.1,13.9,13.85,14.2,13.9,13.95,13.85,14.1,13.9,14.2,13.85,14,13.85,14.1,13.95,13.85,14.2,13.9,13.8,
14,13.8,14.1,13.85,13.95,14.2,13.85,13.9,14.1,13.85,14,13.85,14.2,13.9,13.8,14.1,13.85,13.95,14.2,13.85,
13.9,14.1,13.85,14,13.8,14.2,13.9,13.85,14.1,13.8,13.95,14.2,13.85,13.9,14.1,13.85,14,13.85,14.2,13.9,
13.85,14.1,13.9,14,14,14.2,14.05,14,14.2,14,14.05,14.3,14,14.1,14.05,14.3,14,14.1,14.2,14.1,
14.3,14.05,14.1,14.2,14.1,14.3,14.05,14.2,14.1,14.3,14.1,14.05,14.2,14.1,14.2,14.3,14,14.05,14.2,14,
14.1,14.05,14.2,14,14.1,14.3,14,14.1,14.05,14.2,14,14.1,14.3,14,14.05,14,14.2,13.95,14.05,13.85,
14.1,13.9,14.2,13.85,14,14.1,13.85,14.2,14,13.85,14.1,13.9,14.2,13.85,13.9,14.1,13.85,14,14.2,13.85,
13.95,14.1,13.85,14.2,13.9,13.85,14.1,13.85,14,14.2,13.85,13.9,14.1,13.85,14.2,13.85,13.9,14.1,14,13.85,
14.2,13.9,13.85,14.1,13.9,14.2,13.85,14.1,13.85,13.8,14.2,13.9,14,13.85,14.1,13.9,14.2,13.85,14,14.1,
13.85,14.2,13.9,14,13.85,14.1,14.2,13.85,13.95,14.1,13.9,14.2,13.85,14,14.1,13.85,14.2,13.9,14.1,13.85,
13.95,14.2,13.85,14.1,13.85,13.9,14.2,14,13.85,14.1,13.9,14.2,13.85,14,14.1,13.85,14.2,13.9,14.05,14.1,
13.85,14.2,14.1,13.95,14.2,13.95,14.1,14,13.9,14.2,14.05,13.95,14.1,13.85,14.2,14,13.9,14.1,13.9,14.2];

const plotLeft = 34, plotRight = 1195, plotTop = 11, axisY = 411;

const svg = d3.select('#chart');
const parse = d3.timeParse('%Y-%m-%d %H:%M');
const x = d3.scaleTime()
  .domain([parse(xTicks[0]), parse(xTicks[xTicks.length - 1])])
  .range([48.5, 1161.5]);
const y = d3.scaleLinear().domain([14, 17]).range([339.5, 21.5]);

// grid sits behind the traces
svg.append('g').selectAll('line')
  .data(yTicks)
  .join('line')
  .attr('x1', plotLeft + 4).attr('x2', plotRight)
  .attr('y1', d => y(d)).attr('y2', d => y(d))
  .attr('stroke', '#777')
  .attr('stroke-dasharray', '2,2');

const firstSample = d3.timeMinute.offset(parse(xTicks[0]), 29);
const sampleMinutes = 11.05;
// phase 0.5 puts a trace's peaks in the gaps between the peaks of phase 0 traces
const toPoints = (hi, lo, phase) => hi.flatMap((h, i) => [
  { t: d3.timeSecond.offset(firstSample, (i + phase) * sampleMinutes * 60), v: h },
  { t: d3.timeSecond.offset(firstSample, (i + phase + 0.5) * sampleMinutes * 60), v: lo[i] }
]);

const line = d3.line().x(d => x(d.t)).y(d => y(d.v));

// paint order: later traces cover earlier ones
const traces = [
  { name: 'A05', hi: a05Hi, lo: a05Lo, width: 3.4, phase: 0 },
  { name: 'A03', hi: a03Hi, lo: a03Lo, width: 2.7, phase: 0 },
  { name: 'A06', hi: a06Hi, lo: a06Lo, width: 2.7, phase: 0 },
  { name: 'A10', hi: a10Hi, lo: a10Lo, width: 2.7, phase: 0 },
  { name: 'A10', hi: a06Lo, lo: a10Inner, width: 2.7, phase: 0.5 },
  { name: 'A02', hi: a02Hi, lo: a02Lo, width: 2.7, phase: 0 },
  { name: 'A17', hi: a17Hi, lo: a02Lo, width: 2.7, phase: 0.5 },
  { name: 'A01', hi: a01Hi, lo: a01Lo, width: 2.7, phase: 0 },
  { name: 'A16', hi: a16Hi, lo: a16Lo, width: 2.7, phase: 0.5 }
];

svg.append('g').selectAll('path')
  .data(traces)
  .join('path')
  .attr('d', d => line(toPoints(d.hi, d.lo, d.phase)))
  .attr('fill', 'none')
  .attr('stroke', d => colors[names.indexOf(d.name)])
  .attr('stroke-width', d => d.width)
  .attr('stroke-linejoin', 'bevel');

// y axis
svg.append('line')
  .attr('x1', plotLeft).attr('x2', plotLeft).attr('y1', plotTop).attr('y2', 405)
  .attr('stroke', '#000').attr('stroke-width', 2);
svg.append('g').selectAll('text')
  .data(yTicks)
  .join('text')
  .attr('x', 27).attr('y', d => y(d) + 6)
  .attr('text-anchor', 'end')
  .attr('font-family', '"DejaVu Serif"')
  .attr('font-size', 15.5)
  .text(d => d);

// x axis
svg.append('line')
  .attr('x1', 39).attr('x2', plotRight).attr('y1', axisY + 0.5).attr('y2', axisY + 0.5)
  .attr('stroke', '#000').attr('stroke-width', 1.6);
const xg = svg.append('g').selectAll('g')
  .data(xTicks)
  .join('g')
  .attr('transform', d => `translate(${x(parse(d))},0)`);
xg.append('line').attr('y1', axisY + 1).attr('y2', axisY + 4).attr('stroke', '#888');
xg.append('text')
  .attr('transform', `translate(5,418) rotate(-90)`)
  .attr('text-anchor', 'end')
  .attr('font-family', '"DejaVu Serif"')
  .attr('font-size', 14.5)
  .attr('textLength', 142)
  .style('white-space', 'pre')
  .text(d => d.replace(' ', '  '));

// legend
const legend = svg.append('g');
legend.append('rect')
  .attr('x', 93.5).attr('y', 566.5).attr('width', 1021).attr('height', 32)
  .attr('fill', '#fff').attr('stroke', '#000');
const pitch = d3.scalePoint().domain(names).range([95, 1055]);
const item = legend.selectAll('g.item')
  .data(names)
  .join('g')
  .attr('class', 'item')
  .attr('transform', d => `translate(${pitch(d)},582)`);
item.append('line')
  .attr('x1', 0).attr('x2', 17)
  .attr('stroke', (d, i) => colors[i])
  .attr('stroke-width', 3.5);
item.append('text')
  .attr('x', 20).attr('y', 7)
  .attr('font-family', '"Liberation Serif"')
  .attr('font-size', 21)
  .text(d => d);
</script>
</body>
</html>
